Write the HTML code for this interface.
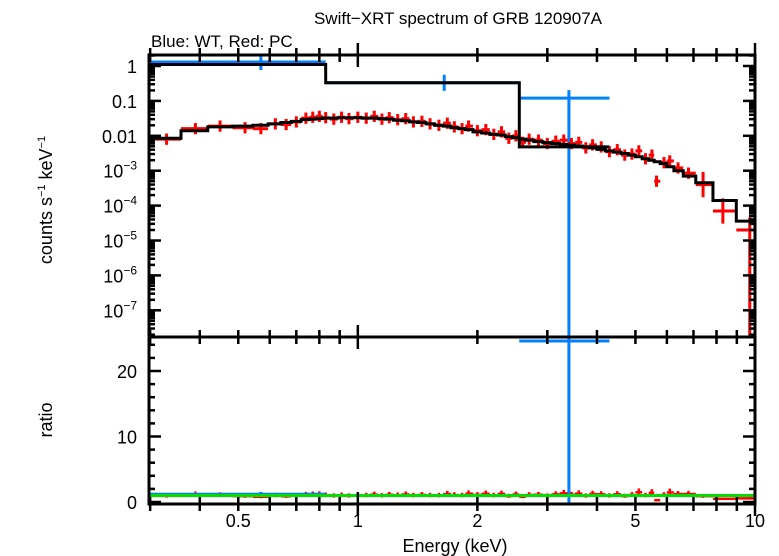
<!DOCTYPE html>
<html><head><meta charset="utf-8"><style>
body{margin:0;background:#fff;}
svg{display:block;font-family:"Liberation Sans",sans-serif;}
</style></head><body>
<svg id="c" width="779" height="556" xmlns="http://www.w3.org/2000/svg">
<text x="458" y="24" font-size="17" text-anchor="middle">Swift−XRT spectrum of GRB 120907A</text>
<text x="151" y="47" font-size="17">Blue: WT, Red: PC</text>
<text transform="translate(52,200) rotate(-90)" font-size="18" text-anchor="middle">counts s<tspan font-size="11" dy="-7">−1</tspan><tspan dy="7"> keV</tspan><tspan font-size="11" dy="-7">−1</tspan></text>
<text transform="translate(52,420) rotate(-90)" font-size="18" text-anchor="middle">ratio</text>
<text x="455" y="552" font-size="18" text-anchor="middle">Energy (keV)</text>
<g id="g"></g>
</svg>
<script>
const pcE=[0.33,0.39,0.45,0.52,0.57,0.62,0.66,0.70,0.74,0.77,0.80,0.83,0.87,0.91,0.95,1.0,1.05,1.1,1.15,1.2,1.26,1.32,1.38,1.45,1.52,1.6,1.68,1.75,1.83,1.9,2.0,2.1,2.2,2.3,2.4,2.5,2.6,2.7,2.85,3.0,3.15,3.3,3.45,3.6,3.75,3.9,4.1,4.3,4.5,4.7,4.9,5.1,5.3,5.5,5.65,5.9,6.1,6.4,6.8,7.4,8.3,9.7];
const pcV=[0.008,0.016,0.019,0.017,0.016,0.022,0.021,0.025,0.032,0.034,0.036,0.033,0.030,0.034,0.031,0.034,0.032,0.036,0.030,0.033,0.029,0.031,0.025,0.026,0.022,0.020,0.023,0.018,0.016,0.019,0.014,0.015,0.011,0.013,0.0085,0.010,0.0065,0.008,0.0075,0.0060,0.0070,0.0075,0.0060,0.0065,0.0045,0.0055,0.0048,0.0035,0.0040,0.0028,0.0030,0.0037,0.0022,0.0028,0.0005,0.0017,0.0019,0.0012,0.00085,0.0004,0.00007,0.00002];
const pcM=[0.0085,0.014,0.018,0.019,0.020,0.022,0.024,0.026,0.029,0.030,0.031,0.032,0.032,0.033,0.033,0.033,0.032,0.032,0.031,0.030,0.028,0.027,0.025,0.024,0.022,0.020,0.019,0.017,0.016,0.015,0.013,0.012,0.011,0.0105,0.0095,0.0088,0.0080,0.0075,0.0068,0.0064,0.0060,0.0057,0.0054,0.0051,0.0048,0.0045,0.0041,0.0037,0.0034,0.0031,0.0028,0.0025,0.0022,0.0020,0.0018,0.0016,0.0013,0.0010,0.0007,0.00045,0.00014,0.000036];
const wtE=[0.57,1.65,3.4];
const wtV=[1.3,0.33,0.12];
const wtEdges=[0.3,0.83,2.55,4.3];
const wtM=[1.1,0.33,0.0048];
const yTopTicks=[1,0.1,0.01,1e-3,1e-4,1e-5,1e-6,1e-7];
const yTopLabels=["1","0.1","0.01","10|−3","10|−4","10|−5","10|−6","10|−7"];
const yRatTicks=[0,10,20];
const xTicks=[0.5,1,2,5,10];

const L=149,R=755,T=55,M=337,B=504;
const X=e=>L+(Math.log10(e)-Math.log10(0.298))/(1-Math.log10(0.298))*(R-L);
const Y=v=>66-34.9*Math.log10(v);
const YR=r=>502-6.55*r;
const g=document.getElementById('g');
const NS='http://www.w3.org/2000/svg';
function mk(t,a){const e=document.createElementNS(NS,t);for(const k in a)e.setAttribute(k,a[k]);g.appendChild(e);return e;}
function ln(x1,y1,x2,y2,c,w){return mk('line',{x1,y1,x2,y2,stroke:c,'stroke-width':w});}
function clipY(y,lo,hi){return Math.max(lo,Math.min(hi,y));}

const edges=[0.3];
for(let i=0;i<pcE.length-1;i++)edges.push(Math.sqrt(pcE[i]*pcE[i+1]));
edges.push(10);

for(let i=0;i<wtE.length;i++){
 const x=X(wtE[i]),y=Y(wtV[i]);
 const el=ln(X(wtEdges[i]),y,X(wtEdges[i+1]),y,'#0080ff',3);
 
 
 const lo=i==2?M:Y(wtV[i]/1.7);
 const ev=ln(x,Y(wtV[i]*1.7),x,lo,'#0080ff',3);
 
 
}

for(let i=0;i<pcE.length;i++){
 const x=X(pcE[i]),y=Y(pcV[i]);
 const f=i>=pcE.length-3?2.3:1.45;
 const el=ln(X(edges[i]),y,X(edges[i+1]),y,'#f00',3);
 
 
 const lo=i==pcE.length-1?M:clipY(Y(pcV[i]/f),T,M);
 const ev=ln(x,clipY(Y(pcV[i]*f),T,M),x,lo,'#f00',3);
 
 
 const r=pcV[i]/pcM[i];
 const ry=YR(r);
 const re=ln(X(edges[i]),ry,X(edges[i+1]),ry,'#f00',2.5);
 
 
 const rv=ln(x,YR(r*1.4),x,YR(r/1.4),'#f00',2.5);
 
 
}

let d='';
for(let i=0;i<pcE.length;i++){const y=Y(pcM[i]);d+=(i?'L':'M')+X(edges[i])+','+y+'L'+X(edges[i+1])+','+y;}
let p=mk('path',{d,fill:'none',stroke:'#000','stroke-width':3});


d='';
for(let i=0;i<wtM.length;i++){const y=Y(wtM[i]);d+=(i?'L':'M')+X(wtEdges[i])+','+y+'L'+X(wtEdges[i+1])+','+y;}
p=mk('path',{d,fill:'none',stroke:'#000','stroke-width':3});



for(let i=0;i<wtE.length;i++){
 const x=X(wtE[i]);
 const r=wtV[i]/wtM[i];
 const ry=YR(r);
 const re=ln(X(wtEdges[i]),clipY(ry,M+4,B),X(wtEdges[i+1]),clipY(ry,M+4,B),'#0080ff',3);
 
 
 const rv=ln(x,clipY(YR(r*1.3),M,B),x,i==2?B:YR(r/1.3),'#0080ff',3);
 
 
}
let u=ln(L,YR(1),R,YR(1),'#00e000',3);



let f1=mk('rect',{x:L,y:T,width:R-L,height:B-T,fill:'none',stroke:'#000','stroke-width':3});


let dv=ln(L,M,R,M,'#000',3);



for(let k=-1;k<=1;k++)for(let m=1;m<10;m++){
 const e=m*Math.pow(10,k);if(e<0.3||e>10)continue;
 const x=X(e),len=m==1?12:7;
 for(const yy of [T,M,B]){ln(x,yy,x,yy+len,'#000',2.5);ln(x,yy,x,yy-len,'#000',2.5);}
}
xTicks.forEach(v=>{const t=mk('text',{x:X(v),y:527,'font-size':18,'text-anchor':'middle'});t.textContent=String(v);
 });
for(let k=-8;k<=0;k++)for(let m=1;m<10;m++){
 const v=m*Math.pow(10,k),y=Y(v);if(y<T||y>M)continue;
 const len=m==1?12:6;ln(L,y,L+len,y,'#000',2.5);ln(R,y,R-len,y,'#000',2.5);
}
yTopTicks.forEach((v,i)=>{const t=mk('text',{x:137,y:Y(v)+7,'font-size':18,'text-anchor':'end'});
 const s=yTopLabels[i].split('|');
 if(s.length==1)t.textContent=s[0];else t.innerHTML=s[0]+'<tspan font-size="12" dy="-8">'+s[1]+'</tspan>';
 });
for(let r=0;r<=25;r+=2){const y=YR(r);const len=r%10==0?12:6;ln(L,y,L+len,y,'#000',2.5);ln(R,y,R-len,y,'#000',2.5);}
yRatTicks.forEach(v=>{const t=mk('text',{x:137,y:YR(v)+7,'font-size':18,'text-anchor':'end'});t.textContent=String(v);
 });
</script>
</body></html>
